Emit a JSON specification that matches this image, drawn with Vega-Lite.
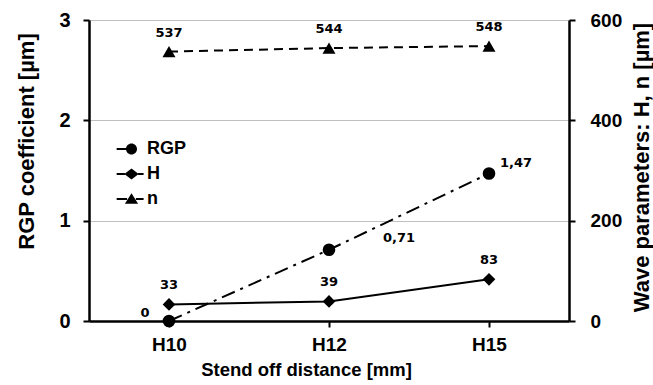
{
  "$schema": "https://vega.github.io/schema/vega-lite/v6.json",
  "width": 480,
  "height": 301,
  "autosize": {"type": "none"},
  "padding": {"left": 89, "top": 20, "right": 84, "bottom": 64},
  "background": "white",
  "config": {
    "view": {"stroke": null},
    "locale": {"number": {"decimal": ",", "thousands": ".", "grouping": [3], "currency": ["", "€"]}},
    "font": "Liberation Sans",
    "axis": {
      "labelFont": "Liberation Sans",
      "labelFontWeight": "bold",
      "labelColor": "black",
      "titleFont": "Liberation Sans",
      "titleFontWeight": "bold",
      "titleColor": "black",
      "titleFontSize": 18,
      "domainColor": "black",
      "domainWidth": 2.5,
      "tickColor": "black",
      "tickWidth": 2,
      "tickSize": 6
    }
  },
  "data": {
    "values": [
      {"dist": "H10", "series": "RGP", "value": 0},
      {"dist": "H12", "series": "RGP", "value": 0.71},
      {"dist": "H15", "series": "RGP", "value": 1.47},
      {"dist": "H10", "series": "H", "value": 33},
      {"dist": "H12", "series": "H", "value": 39},
      {"dist": "H15", "series": "H", "value": 83},
      {"dist": "H10", "series": "n", "value": 537},
      {"dist": "H12", "series": "n", "value": 544},
      {"dist": "H15", "series": "n", "value": 548}
    ]
  },
  "layer": [
    {
      "transform": [{"filter": "datum.series === 'RGP'"}],
      "encoding": {
        "x": {
          "field": "dist", "type": "ordinal",
          "scale": {"type": "point", "padding": 0.5},
          "axis": {"title": "Stend off distance [mm]", "labelAngle": 0, "labelFontSize": 19, "labelPadding": 8, "titleFontSize": 18.5, "titlePadding": 6, "titleX": 217, "grid": false}
        },
        "y": {
          "field": "value", "type": "quantitative",
          "scale": {"domain": [0, 3], "nice": false},
          "axis": {"title": "RGP coefficient [µm]", "orient": "left", "values": [0, 1, 2, 3], "labelFontSize": 20, "labelPadding": 13, "titleFontSize": 22, "titlePadding": 20, "titleY": 121, "grid": true, "gridColor": "#c0c0c0", "gridWidth": 1}
        }
      },
      "layer": [
        {"mark": {"type": "line", "color": "black", "strokeWidth": 2, "strokeDash": [14, 6, 3, 6]}},
        {"mark": {"type": "point", "shape": "circle", "filled": true, "color": "black", "opacity": 1, "size": 160}},
        {
          "transform": [{"filter": "datum.dist === 'H10'"}],
          "mark": {"type": "text", "font": "DejaVu Sans", "fontWeight": "bold", "fontSize": 13, "color": "black", "dx": -24, "dy": -8},
          "encoding": {"text": {"field": "value", "type": "quantitative", "format": ".2~f"}}
        },
        {
          "transform": [{"filter": "datum.dist === 'H12'"}],
          "mark": {"type": "text", "font": "DejaVu Sans", "fontWeight": "bold", "fontSize": 13, "color": "black", "dx": 70, "dy": -12},
          "encoding": {"text": {"field": "value", "type": "quantitative", "format": ".2~f"}}
        },
        {
          "transform": [{"filter": "datum.dist === 'H15'"}],
          "mark": {"type": "text", "font": "DejaVu Sans", "fontWeight": "bold", "fontSize": 13, "color": "black", "dx": 27, "dy": -11},
          "encoding": {"text": {"field": "value", "type": "quantitative", "format": ".2~f"}}
        }
      ]
    },
    {
      "transform": [{"filter": "datum.series !== 'RGP'"}],
      "encoding": {
        "x": {"field": "dist", "type": "ordinal", "scale": {"type": "point", "padding": 0.5}},
        "y": {
          "field": "value", "type": "quantitative",
          "scale": {"domain": [0, 600], "nice": false},
          "axis": {"title": "Wave parameters: H, n [µm]", "orient": "right", "values": [0, 200, 400, 600], "labelFontSize": 19, "labelPadding": 15, "titleFontSize": 22, "titlePadding": 10, "titleAngle": -90, "titleBaseline": "top", "titleY": 147, "grid": false}
        }
      },
      "layer": [
        {
          "transform": [{"filter": "datum.series === 'H'"}],
          "layer": [
            {"mark": {"type": "line", "color": "black", "strokeWidth": 2}},
            {"mark": {"type": "point", "shape": "diamond", "filled": true, "color": "black", "opacity": 1, "size": 160}}
          ]
        },
        {
          "transform": [{"filter": "datum.series === 'n'"}],
          "layer": [
            {"mark": {"type": "line", "color": "black", "strokeWidth": 2, "strokeDash": [9, 6]}},
            {"mark": {"type": "point", "shape": "triangle-up", "filled": true, "color": "black", "opacity": 1, "size": 170}}
          ]
        },
        {
          "mark": {"type": "text", "font": "DejaVu Sans", "fontWeight": "bold", "fontSize": 13, "color": "black", "dy": -19},
          "encoding": {"text": {"field": "value", "type": "quantitative", "format": "d"}}
        }
      ]
    },
    {
      "mark": {"type": "point", "filled": true, "opacity": 0, "color": "black"},
      "encoding": {
        "x": {"field": "dist", "type": "ordinal", "scale": {"type": "point", "padding": 0.5}},
        "shape": {
          "field": "series", "type": "nominal",
          "scale": {
            "domain": ["RGP", "H", "n"],
            "range": [
              "M-2.7,-0.18H-0.9V0.18H-2.7ZM-1,0A1,1 0 1,1 1,0A1,1 0 1,1 -1,0Z",
              "M-2.7,-0.18H-1.2V0.18H-2.7ZM1.2,-0.18H2.2V0.18H1.2ZM-1.3,0L0,-1L1.3,0L0,1Z",
              "M-2.7,-0.18H-0.8V0.18H-2.7ZM0.8,-0.18H2.2V0.18H0.8ZM0,-1.05L1.2,0.85L-1.2,0.85Z"
            ]
          },
          "legend": {
            "title": null,
            "orient": "none",
            "legendX": 33.5,
            "legendY": 120,
            "padding": 0,
            "symbolSize": 121,
            "symbolFillColor": "black",
            "symbolStrokeColor": "black",
            "symbolStrokeWidth": 0,
            "symbolOpacity": 1,
            "labelFont": "Liberation Sans",
            "labelFontWeight": "bold",
            "labelFontSize": 18,
            "labelColor": "black",
            "labelOffset": 6.5,
            "rowPadding": 7,
            "encode": {"symbols": {"update": {"opacity": {"value": 1}, "fill": {"value": "black"}}}}
          }
        }
      }
    }
  ],
  "resolve": {"scale": {"y": "independent"}}
}
